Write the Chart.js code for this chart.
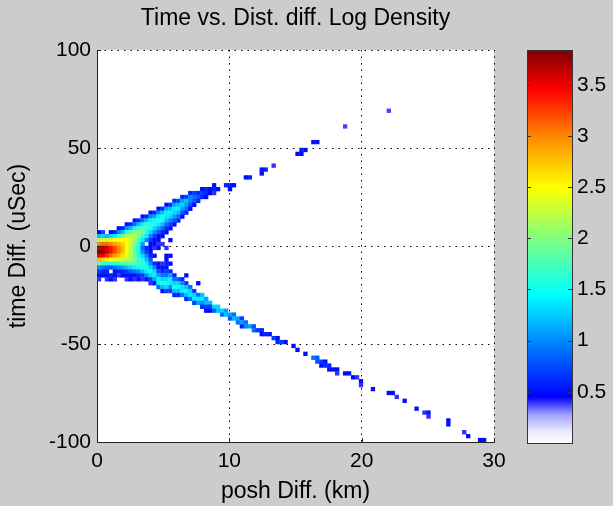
<!DOCTYPE html>
<html>
<head>
<meta charset="utf-8">
<title>Time vs. Dist. diff. Log Density</title>
<script src="https://cdn.jsdelivr.net/npm/chart.js@4.4.1/dist/chart.umd.min.js"></script>
<style>
  html, body { margin: 0; padding: 0; background: #cccccc; }
  #wrap { position: relative; width: 613px; height: 506px; }
  #wrap canvas { position: absolute; left: 0; top: 0; }
</style>
</head>
<body>
<div id="wrap">
  <canvas id="main" width="613" height="506"></canvas>
  <canvas id="cbar" width="613" height="506"></canvas>
</div>
<script>
/* ============================================================
   Time vs. Dist. diff. — log density map (2D histogram)
   ============================================================ */

const TITLE   = 'Time vs. Dist. diff. Log Density';
const X_LABEL = 'posh Diff. (km)';
const Y_LABEL = 'time Diff. (uSec)';

const xTicks  = [0, 10, 20, 30];
const yTicks  = [-100, -50, 0, 50, 100];
const cbTicks = [0.5, 1, 1.5, 2, 2.5, 3, 3.5];
const cbMax   = 3.84;

// bin size of the histogram (km, uSec)
const binW = 0.3;
const binH = 2;

// ── Core of the cone: one column per x bin, values from top y downward (0 = empty)
const coreX   = [0.15, 0.45, 0.75, 1.05, 1.35, 1.65, 1.95, 2.25, 2.55, 2.85, 3.15, 3.45, 3.75, 4.05, 4.35];
const coreTop = [7, 7, 5, 7, 7, 9, 9, 11, 11, 13, 13, 15, 15, 17, 17];
const coreVals = [
  [0.5, 1.2, 2.2, 3.0, 3.6, 3.8, 3.5, 2.8, 1.8, 1.0, 0.7, 0.5, 0.4],
  [0.4, 1.3, 2.3, 3.1, 3.7, 3.8, 3.5, 2.7, 1.7, 0.9, 0.6, 0.5],
  [1.2, 2.3, 3.1, 3.6, 3.6, 3.3, 2.6, 1.6, 0.8, 0.6, 0.5, 0.4],
  [0.5, 1.3, 2.4, 3.0, 3.4, 3.4, 3.1, 2.5, 1.6, 0.8, 0, 0.6, 0.5],
  [0.6, 1.4, 2.4, 2.9, 3.2, 3.2, 2.9, 2.4, 1.6, 0.9, 0.5, 0.5, 0.4],
  [0.5, 1.0, 1.7, 2.5, 2.8, 3.0, 3.0, 2.8, 2.4, 1.7, 1.0, 0.6, 0.4],
  [0.6, 1.2, 1.9, 2.5, 2.7, 2.8, 2.8, 2.6, 2.3, 1.8, 1.1, 0.6, 0.5],
  [0.5, 1.0, 1.6, 2.2, 2.5, 2.5, 2.5, 2.5, 2.4, 2.2, 1.8, 1.2, 0.7, 0.5, 0.4],
  [0.6, 1.2, 1.8, 2.2, 2.3, 2.3, 2.2, 2.2, 2.2, 2.1, 1.8, 1.3, 0.8, 0.5, 0.5],
  [0.5, 0.9, 1.5, 2.0, 2.2, 2.1, 2.0, 1.9, 1.9, 1.9, 1.9, 1.8, 1.4, 0.9, 0.5, 0.4],
  [0.6, 1.2, 1.7, 2.0, 2.0, 1.8, 1.6, 1.5, 1.5, 1.6, 1.7, 1.7, 1.5, 1.0, 0.6, 0.5],
  [0.5, 0.9, 1.4, 1.8, 1.9, 1.7, 1.4, 1.1, 0.9, 1.0, 1.3, 1.5, 1.6, 1.6, 1.2, 0.7, 0.4],
  [0.6, 1.2, 1.6, 1.7, 1.6, 1.4, 1.0, 0, 0.6, 0.7, 1.0, 1.2, 1.4, 1.5, 1.4, 1.0, 0.5],
  [0.5, 1.0, 1.4, 1.6, 1.5, 1.3, 1.0, 0.7, 0.5, 0.5, 0.5, 0.6, 0.8, 1.0, 1.3, 1.5, 1.3, 0.7, 0.4],
  [0.6, 1.1, 1.5, 1.5, 1.3, 1.0, 0.7, 0.5, 0.5, 0.4, 0, 0.5, 0, 0.6, 1.0, 1.3, 1.4, 1.1, 0.5],
];

// ── Upper branch (positive time diff.)
const upX   = [4.65, 4.95, 5.25, 5.55, 5.85, 6.15, 6.45, 6.75, 7.05, 7.35, 7.65, 7.95, 8.25, 8.55, 8.85, 9.15];
const upTop = [19, 19, 21, 21, 23, 23, 25, 25, 27, 27, 27, 29, 29, 29, 31, 29];
const upVals = [
  [0.5, 1.0, 1.4, 1.5, 1.4, 1.1, 0.8, 0.5, 0.5, 0.4, 0.5],
  [0.6, 1.2, 1.5, 1.5, 1.2, 0.9, 0.6, 0.5, 0, 0.4],
  [0.5, 1.1, 1.4, 1.4, 1.2, 0.9, 0.6, 0.5, 0, 0, 0, 0.4],
  [0.6, 1.2, 1.4, 1.3, 1.0, 0.7, 0.5, 0, 0, 0.5],
  [0.6, 1.1, 1.4, 1.3, 1.1, 0.8, 0.5],
  [0.7, 1.2, 1.4, 1.2, 0.9, 0.6],
  [0.6, 1.1, 1.3, 1.1, 0.8, 0.5],
  [0.7, 1.2, 1.1, 0.9, 0.6],
  [0.6, 1.0, 1.0, 0.8, 0.5],
  [0.7, 0.9, 0.8, 0.5],
  [0.6, 0.8, 0.6],
  [0.5, 0.7, 0.6],
  [0.6, 0.6, 0.5],
  [0.5, 0.5],
  [0.5, 0.6, 0.4],
  [0.5],
];

// ── Lower branch (negative time diff.)
const lowX   = [4.65, 4.95, 5.25, 5.55, 5.85, 6.15, 6.45, 6.75, 7.05, 7.35, 7.65, 7.95, 8.25, 8.55, 8.85, 9.15,
                9.45, 9.75, 10.05, 10.35, 10.65, 10.95, 11.25, 11.55, 11.85, 12.15, 12.45, 12.75, 13.05, 13.35, 13.65, 13.95, 14.25];
const lowTop = [-9, -9, -5, -5, -15, -17, -17, -15, -21, -23, -19, -25, -27, -29, -31, -31,
                -33, -33, -35, -35, -37, -37, -39, -41, -41, -43, -43, -45, -45, -47, -47, -49, -49];
const lowVals = [
  [0.5, 0.5, 0.8, 1.1, 1.4, 1.4, 0.9],
  [0.4, 0.5, 0.6, 0.9, 1.3, 1.5, 1.2, 0.5],
  [0.5, 0.5, 0.6, 0.5, 0.7, 0.9, 1.3, 1.5, 1.3, 0.7],
  [0.5, 0, 0.5, 0, 0.6, 1.1, 1.4, 1.4, 1.0, 0.4],
  [0.6, 0.9, 1.3, 1.5, 1.2, 0.6],
  [0.8, 1.3, 1.5, 1.2, 0.6],
  [0.6, 1.0, 1.4, 1.4, 0.9],
  [0.5, 0, 0.7, 1.2, 1.5, 1.2, 0.6],
  [0.9, 1.3, 1.4, 0.9],
  [0.7, 1.3, 1.4, 0.7],
  [0.5, 0, 0, 0.9, 1.4, 1.1],
  [1.2, 1.4, 1.0, 0.6],
  [1.1, 1.2, 0.7, 0.5],
  [1.2, 0.7, 0.5],
  [1.3, 0.8],
  [1.3, 1.2],
  [1.3, 0.9],
  [1.1, 1.2],
  [1.1, 0.8],
  [0.9, 1.2],
  [1.1, 0.9],
  [0.7, 1.1, 0.6],
  [0.9, 1.0],
  [1.1],
  [0.8, 0.9],
  [0.7],
  [0.6, 0.5],
  [0.6],
  [0.5],
  [0.7],
  [0.5, 0.6],
  [0.7],
  [0.5],
];

// ── Sparse cells along the far part of both branches
const farX = [9.75, 10.05, 10.35, 10.05, 11.25, 11.55, 12.45, 12.75, 12.45, 13.35, 15.15, 15.45, 15.75, 15.45, 16.35, 16.65, 18.75, 22.05,
              14.85, 15.15, 15.75, 16.35, 16.65, 16.65, 16.95, 16.95, 17.25, 17.25, 17.55, 17.55, 17.85, 18.15, 18.15, 18.75, 19.05,
              19.35, 19.65, 19.95, 19.95, 20.85, 22.05, 22.35, 22.65, 23.25, 24.15, 24.75, 25.05, 25.05, 26.55, 26.55, 27.75, 28.05, 28.95, 29.25];
const farY = [31, 31, 31, 29, 35, 35, 37, 39, 39, 41, 47, 49, 49, 47, 53, 53, 61, 69,
              -51, -53, -55, -57, -57, -59, -59, -61, -59, -61, -61, -63, -63, -63, -65, -65, -65,
              -67, -67, -69, -71, -73, -75, -75, -77, -79, -83, -85, -85, -87, -89, -91, -95, -97, -99, -99];
const farV = [0.6, 0.6, 0.5, 0.5, 0.5, 0.6, 0.5, 0.6, 0.5, 0.4, 0.5, 0.6, 0.5, 0.5, 0.5, 0.5, 0.38, 0.38,
              0.5, 0.5, 0.5, 0.9, 0.8, 0.8, 0.7, 0.5, 0.5, 0.6, 0.6, 0.5, 0.5, 0.5, 0.4, 0.5, 0.5,
              0.5, 0.4, 0.5, 0.4, 0.5, 0.5, 0.5, 0.4, 0.5, 0.5, 0.4, 0.5, 0.4, 0.5, 0.5, 0.4, 0.5, 0.5, 0.5];

// ── colour map (jet, fading to white at the bottom)
const cmap = [
  [0.00, 255, 255, 255],
  [0.12, 232, 232, 255],
  [0.28, 160, 160, 255],
  [0.45,   0,   0, 255],
  [0.95,   0, 125, 255],
  [1.45,   0, 255, 255],
  [2.00, 130, 255, 125],
  [2.50, 255, 255,   0],
  [3.00, 255, 135,   0],
  [3.45, 255,   0,   0],
  [3.84, 128,   0,   0],
];

function jet(v) {
  if (v <= cmap[0][0]) return `rgb(${cmap[0][1]},${cmap[0][2]},${cmap[0][3]})`;
  for (let i = 1; i < cmap.length; i++) {
    const a = cmap[i - 1], b = cmap[i];
    if (v <= b[0]) {
      const t = (v - a[0]) / (b[0] - a[0]);
      const c = [1, 2, 3].map(k => Math.round(a[k] + (b[k] - a[k]) * t));
      return `rgb(${c[0]},${c[1]},${c[2]})`;
    }
  }
  const l = cmap[cmap.length - 1];
  return `rgb(${l[1]},${l[2]},${l[3]})`;
}

// unpack column tables into cells
const cells = [];
function addColumns(xs, tops, vals) {
  xs.forEach((x, i) => vals[i].forEach((v, k) => {
    if (v > 0) cells.push({ x, y: tops[i] - binH * k, v });
  }));
}
addColumns(coreX, coreTop, coreVals);
addColumns(upX, upTop, upVals);
addColumns(lowX, lowTop, lowVals);
farX.forEach((x, i) => cells.push({ x, y: farY[i], v: farV[i] }));

const FONT = '"Liberation Sans", Arial, Helvetica, sans-serif';
const FS   = 21;   // tick labels
const FT   = 23;   // titles

// ── small plugins ────────────────────────────────────────────
const whiteArea = {
  id: 'whiteArea',
  beforeDraw(chart) {
    const { ctx, chartArea: a } = chart;
    ctx.save();
    ctx.fillStyle = '#ffffff';
    ctx.fillRect(a.left, a.top, a.right - a.left, a.bottom - a.top);
    ctx.restore();
  },
};

const innerTicks = {
  id: 'innerTicks',
  afterDraw(chart) {
    const { ctx, chartArea: a, scales } = chart;
    ctx.save();
    ctx.strokeStyle = '#222';
    ctx.lineWidth = 1;
    ctx.beginPath();
    scales.x.ticks.forEach((t, i) => {
      const px = Math.round(scales.x.getPixelForTick(i)) + 0.5;
      ctx.moveTo(px, a.bottom); ctx.lineTo(px, a.bottom - 4);
    });
    scales.y.ticks.forEach((t, i) => {
      const py = Math.round(scales.y.getPixelForTick(i)) + 0.5;
      ctx.moveTo(a.left, py); ctx.lineTo(a.left + 4, py);
    });
    ctx.stroke();
    ctx.font = `${FT}px ${FONT}`;
    ctx.fillStyle = '#000';
    ctx.textAlign = 'center';
    ctx.textBaseline = 'middle';
    ctx.fillText(TITLE, (a.left + a.right) / 2, 19);
    ctx.restore();
  },
};

// ── main density chart ──────────────────────────────────────
new Chart(document.getElementById('main'), {
  type: 'scatter',
  data: {
    datasets: [{
      data: cells,
      pointStyle: 'rect',
      pointBorderWidth: 0,
      pointBackgroundColor: c => (c.raw ? jet(c.raw.v) : '#0000ff'),
      pointRadius: c => {
        const s = c.chart.scales.x;
        return (s.getPixelForValue(binW) - s.getPixelForValue(0)) / Math.SQRT2 + 0.25;
      },
      pointHoverRadius: 0,
    }],
  },
  options: {
    responsive: false,
    animation: false,
    events: [],
    layout: { padding: { top: 50, right: 119, bottom: 0, left: 0 } },
    plugins: { legend: { display: false }, tooltip: { enabled: false } },
    scales: {
      x: {
        type: 'linear', min: 0, max: 30,
        afterBuildTicks: s => { s.ticks = xTicks.map(value => ({ value })); },
        ticks: { color: '#000', font: { family: FONT, size: FS }, padding: 7, maxRotation: 0 },
        grid: { color: '#000', lineWidth: 1, drawTicks: false },
        border: { display: true, color: '#222', width: 1, dash: [1.5, 5] },
        title: { display: true, text: X_LABEL, color: '#000', font: { family: FONT, size: FT }, padding: { top: 0, bottom: 1 } },
        afterFit: s => { s.height = 64; },
      },
      y: {
        type: 'linear', min: -100, max: 100,
        afterBuildTicks: s => { s.ticks = yTicks.map(value => ({ value })); },
        ticks: { color: '#000', font: { family: FONT, size: FS }, padding: 6 },
        grid: { color: '#000', lineWidth: 1, drawTicks: false },
        border: { display: true, color: '#222', width: 1, dash: [1.5, 5] },
        title: { display: true, text: Y_LABEL, color: '#000', font: { family: FONT, size: FT }, padding: { top: 5, bottom: 0 } },
        afterFit: s => { s.width = 97; },
      },
    },
  },
  plugins: [whiteArea, innerTicks],
});

// ── colour bar ──────────────────────────────────────────────
const cbFrame = {
  id: 'cbFrame',
  afterDraw(chart) {
    const { ctx, chartArea: a, scales } = chart;
    ctx.save();
    ctx.strokeStyle = '#333';
    ctx.lineWidth = 1;
    ctx.strokeRect(Math.round(a.left) + 0.5, Math.round(a.top) + 0.5, Math.round(a.right - a.left), Math.round(a.bottom - a.top));
    ctx.beginPath();
    cbTicks.forEach(v => {
      const py = Math.round(scales.y.getPixelForValue(v)) + 0.5;
      ctx.moveTo(a.left, py); ctx.lineTo(a.left + 4, py);
      ctx.moveTo(a.right, py); ctx.lineTo(a.right - 4, py);
    });
    ctx.stroke();
    ctx.restore();
  },
};

new Chart(document.getElementById('cbar'), {
  type: 'bar',
  data: {
    labels: [''],
    datasets: [{
      data: [[0, cbMax]],
      barPercentage: 1,
      categoryPercentage: 1,
      borderWidth: 0,
      backgroundColor: c => {
        const { ctx, chartArea: a } = c.chart;
        if (!a) return '#0000ff';
        const g = ctx.createLinearGradient(0, a.bottom, 0, a.top);
        cmap.forEach(s => g.addColorStop(s[0] / cbMax, `rgb(${s[1]},${s[2]},${s[3]})`));
        return g;
      },
    }],
  },
  options: {
    responsive: false,
    animation: false,
    events: [],
    layout: { padding: { top: 50, right: 0, bottom: 63, left: 527 } },
    plugins: { legend: { display: false }, tooltip: { enabled: false } },
    scales: {
      x: { display: false },
      y: {
        position: 'right', min: 0, max: cbMax,
        afterBuildTicks: s => { s.ticks = cbTicks.map(value => ({ value })); },
        ticks: { color: '#000', font: { family: FONT, size: FS }, padding: 5, autoSkip: false, callback: v => String(v) },
        grid: { display: false, drawTicks: false },
        border: { display: false },
        afterFit: s => { s.width = 41; },
      },
    },
  },
  plugins: [cbFrame],
});
</script>
</body>
</html>
